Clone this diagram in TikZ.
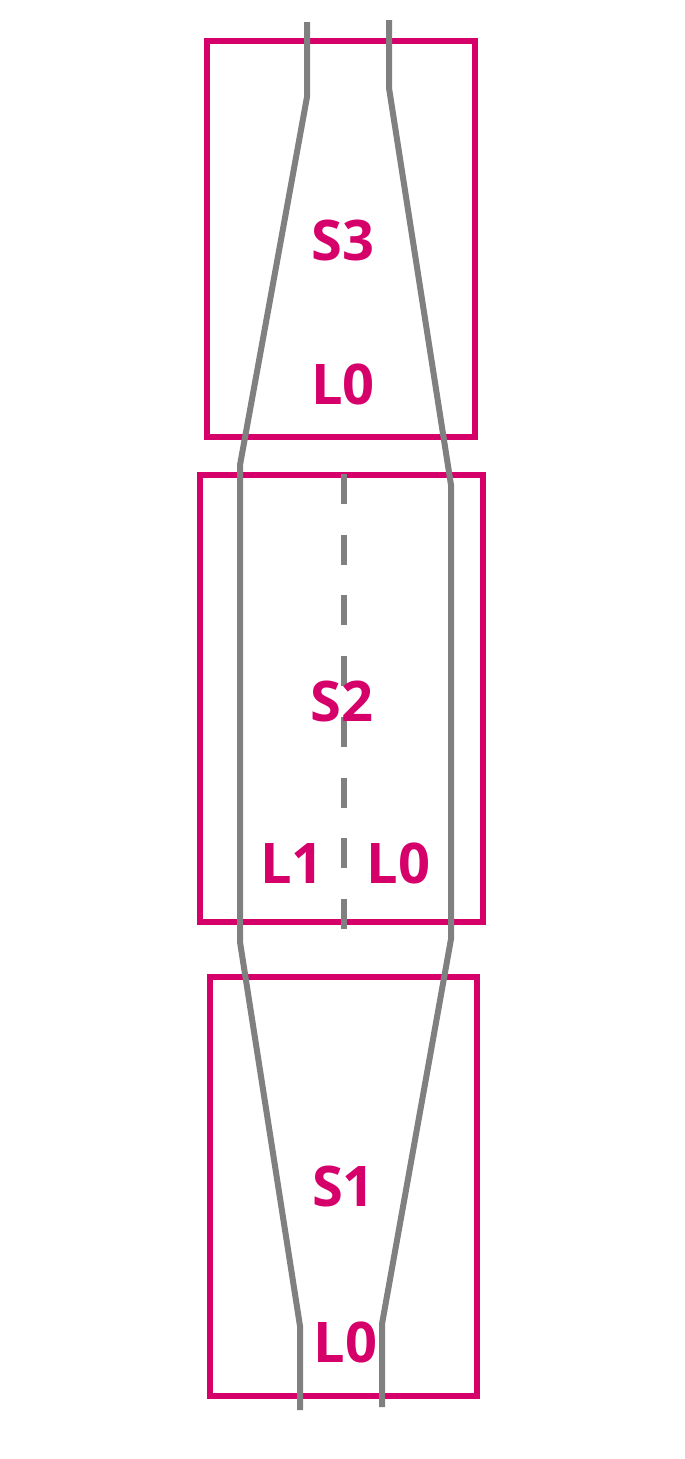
\documentclass[tikz,border=0pt]{standalone}
\usepackage{fontspec}
\setmainfont{Open Sans}
\definecolor{mag}{RGB}{214,0,107}
\definecolor{wire}{RGB}{128,128,128}
\begin{document}
\begin{tikzpicture}[x=1pt,y=-1pt,
  stagebox/.style={draw=mag,line width=6.5pt,inner sep=0pt,minimum width=#1},
  lbl/.style={text=mag,font=\fontsize{56}{60}\selectfont\bfseries,anchor=base,inner sep=0pt},
  wireline/.style={draw=wire,line width=6pt},
  dashline/.style={draw=wire,line width=6pt,dash pattern=on 30pt off 30.7pt}]
\useasboundingbox (0,0) rectangle (685,1459);
% boxes
\node[stagebox=268pt,minimum height=396pt] (s3) at (341,239) {};
\node[stagebox=283pt,minimum height=447pt] (s2) at (341.5,698.5) {};
\node[stagebox=267pt,minimum height=419pt] (s1) at (343.5,1186.5) {};
% wires
\draw[wireline] (307,22) -- (307,97) -- (240,465) -- (240,942) -- (300,1326) -- (300,1410);
\draw[wireline] (389,20) -- (389,88) -- (451,485) -- (451,939) -- (382,1324) -- (382,1407);
\coordinate (dtop) at (344,474);
\coordinate (dbot) at (344,929);
\draw[dashline] (dtop) -- (dbot);
% labels
\node[lbl] (t3) at (343,260) {S3};
\node[lbl] (t3l) at (343,404) {L0};
\node[lbl] (t2) at (342,721) {S2};
\node[lbl] (t2a) at (292,883) {L1};
\node[lbl] (t2b) at (398.5,883) {L0};
\node[lbl] (t1) at (343.5,1206) {S1};
\node[lbl] (t1l) at (345.5,1362) {L0};
\end{tikzpicture}
\end{document}
